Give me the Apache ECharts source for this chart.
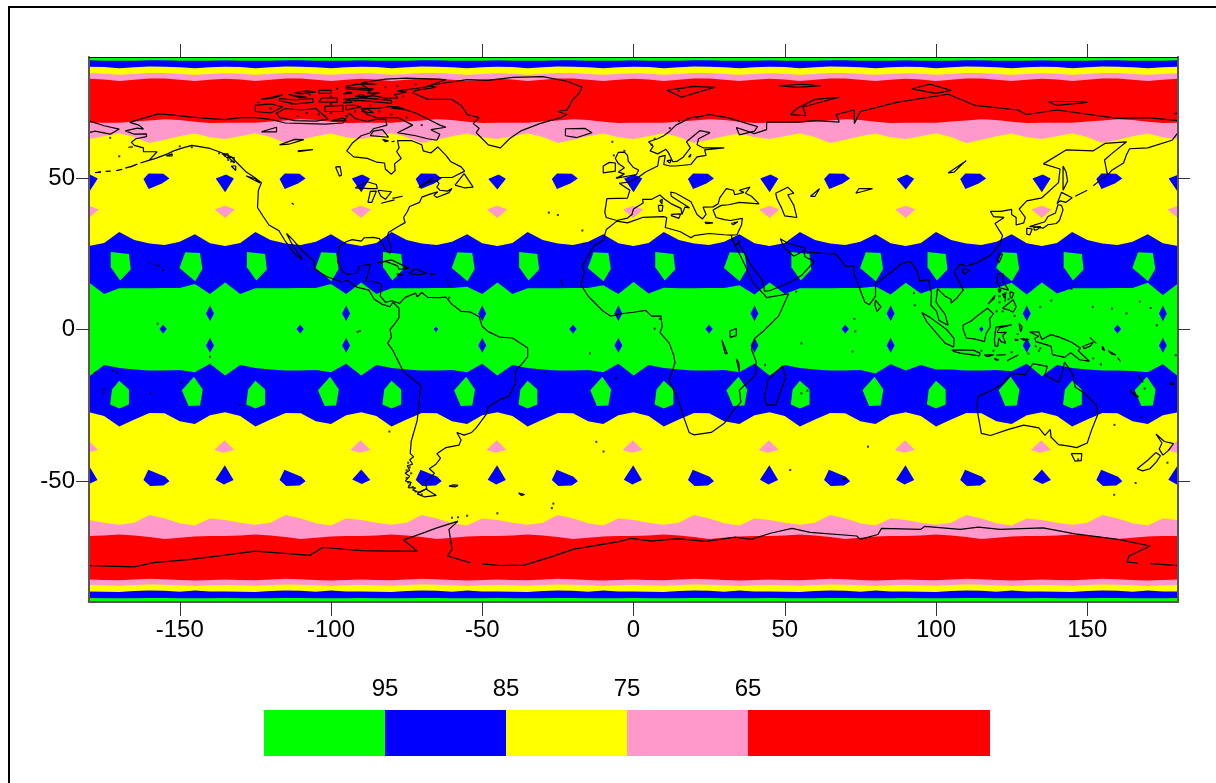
<!DOCTYPE html>
<html>
<head>
<meta charset="utf-8">
<style>
  html, body { margin: 0; padding: 0; background: #fff; overflow: hidden; }
  #chart { width: 1216px; height: 783px; }
</style>
<script src="https://cdn.jsdelivr.net/npm/echarts@6/dist/echarts.min.js"></script>
</head>
<body>
<div id="chart"></div>
<script>
const COLORS = { green: '#00ff00', blue: '#0000ff', yellow: '#ffff00', pink: '#ff99cc', red: '#ff0000' };
const FONT = '"Liberation Sans", Arial, sans-serif';

const xTicks = [-150, -100, -50, 0, 50, 100, 150];
const yTicks = [-50, 0, 50];
const legendLevels = [95, 85, 75, 65];
const legendWidths = [1, 1, 1, 1, 2];
const legendColors = [COLORS.green, COLORS.blue, COLORS.yellow, COLORS.pink, COLORS.red];

// longitudes the band edges were read at
const edgeLons = [
  -180,-175,-170,-165,-160,-155,-150,-145,-140,
  -135,-130,-125,-120,-115,-110,-105,-100,-95,
  -90,-85,-80,-75,-70,-65,-60,-55,-50,
  -45,-40,-35,-30,-25,-20,-15,-10,-5,
  0,5,10,15,20,25,30,35,40,
  45,50,55,60,65,70,75,80,85,
  90,95,100,105,110,115,120,125,130,
  135,140,145,150,155,160,165,170,175,
  180
];

// band edges, latitude per longitude, north to south
const greenBlueCapN = [
  88.9,88.8,88.8,88.8,88.9,88.9,88.8,88.8,88.8, 88.9,88.8,88.8,88.8,88.9,88.9,88.8,88.8,88.8,
  88.9,88.8,88.8,88.8,88.9,88.9,88.8,88.8,88.8, 88.9,88.8,88.8,88.8,88.9,88.9,88.8,88.8,88.8,
  88.9,88.8,88.8,88.8,88.9,88.9,88.8,88.8,88.8, 88.9,88.8,88.8,88.8,88.9,88.9,88.8,88.8,88.8,
  88.9,88.8,88.8,88.8,88.9,88.9,88.8,88.8,88.8, 88.9,88.8,88.8,88.8,88.9,88.9,88.8,88.8,88.8, 88.9
];
const blueYellowCapN = [
  86.8,86.7,86.3,86.6,86.9,86.8,86.6,86.3,86.6, 86.8,86.7,86.3,86.6,86.9,86.8,86.6,86.3,86.6,
  86.8,86.7,86.3,86.6,86.9,86.8,86.6,86.3,86.6, 86.8,86.7,86.3,86.6,86.9,86.8,86.6,86.3,86.6,
  86.8,86.7,86.3,86.6,86.9,86.8,86.6,86.3,86.6, 86.8,86.7,86.3,86.6,86.9,86.8,86.6,86.3,86.6,
  86.8,86.7,86.3,86.6,86.9,86.8,86.6,86.3,86.6, 86.8,86.7,86.3,86.6,86.9,86.8,86.6,86.3,86.6, 86.8
];
const yellowPinkCapN = [
  84.6,84.5,84.1,84.4,84.7,84.7,84.4,84.1,84.4, 84.6,84.5,84.1,84.4,84.7,84.7,84.4,84.1,84.4,
  84.6,84.5,84.1,84.4,84.7,84.7,84.4,84.1,84.4, 84.6,84.5,84.1,84.4,84.7,84.7,84.4,84.1,84.4,
  84.6,84.5,84.1,84.4,84.7,84.7,84.4,84.1,84.4, 84.6,84.5,84.1,84.4,84.7,84.7,84.4,84.1,84.4,
  84.6,84.5,84.1,84.4,84.7,84.7,84.4,84.1,84.4, 84.6,84.5,84.1,84.4,84.7,84.7,84.4,84.1,84.4, 84.6
];
const pinkRedCapN = [
  82.8,82.6,82.1,82.5,82.9,82.9,82.5,82.1,82.5, 82.8,82.6,82.1,82.5,82.9,82.9,82.5,82.1,82.5,
  82.8,82.6,82.1,82.5,82.9,82.9,82.5,82.1,82.5, 82.8,82.6,82.1,82.5,82.9,82.9,82.5,82.1,82.5,
  82.8,82.6,82.1,82.5,82.9,82.9,82.5,82.1,82.5, 82.8,82.6,82.1,82.5,82.9,82.9,82.5,82.1,82.5,
  82.8,82.6,82.1,82.5,82.9,82.9,82.5,82.1,82.5, 82.8,82.6,82.1,82.5,82.9,82.9,82.5,82.1,82.5, 82.8
];
const redPinkN = [
  68.3,68.3,68.3,68.7,69.0,69.4,69.2,68.6,68.2, 68.3,68.3,68.3,68.7,69.0,69.4,69.2,68.6,68.2,
  68.3,68.3,68.3,68.7,69.0,69.4,69.2,68.6,68.2, 68.3,68.3,68.3,68.7,69.0,69.4,69.2,68.6,68.2,
  68.3,68.3,68.3,68.7,69.0,69.4,69.2,68.6,68.2, 68.3,68.3,68.3,68.7,69.0,69.4,69.2,68.6,68.2,
  68.3,68.3,68.3,68.7,69.0,69.4,69.2,68.6,68.2, 68.3,68.3,68.3,68.7,69.0,69.4,69.2,68.6,68.2, 68.3
];
const pinkYellowN = [
  62.9,63.8,64.8,63.6,61.6,62.7,63.8,64.7,63.5, 62.9,63.8,64.8,63.6,61.6,62.7,63.8,64.7,63.5,
  62.9,63.8,64.8,63.6,61.6,62.7,63.8,64.7,63.5, 62.9,63.8,64.8,63.6,61.6,62.7,63.8,64.7,63.5,
  62.9,63.8,64.8,63.6,61.6,62.7,63.8,64.7,63.5, 62.9,63.8,64.8,63.6,61.6,62.7,63.8,64.7,63.5,
  62.9,63.8,64.8,63.6,61.6,62.7,63.8,64.7,63.5, 62.9,63.8,64.8,63.6,61.6,62.7,63.8,64.7,63.5, 62.9
];
const yellowBlueN = [
  27.6,28.6,32.2,29.6,28.4,27.9,29.0,31.5,28.5, 27.6,28.6,32.2,29.6,28.4,27.9,29.0,31.5,28.5,
  27.6,28.6,32.2,29.6,28.4,27.9,29.0,31.5,28.5, 27.6,28.6,32.2,29.6,28.4,27.9,29.0,31.5,28.5,
  27.6,28.6,32.2,29.6,28.4,27.9,29.0,31.5,28.5, 27.6,28.6,32.2,29.6,28.4,27.9,29.0,31.5,28.5,
  27.6,28.6,32.2,29.6,28.4,27.9,29.0,31.5,28.5, 27.6,28.6,32.2,29.6,28.4,27.9,29.0,31.5,28.5, 27.6
];
const blueGreenN = [
  15.5,11.7,13.6,13.6,13.6,13.7,13.7,15.0,11.7, 15.5,11.7,13.6,13.6,13.6,13.7,13.7,15.0,11.7,
  15.5,11.7,13.6,13.6,13.6,13.7,13.7,14.1,11.7, 15.5,11.7,13.6,13.6,13.6,13.7,13.7,14.6,11.7,
  15.7,11.9,13.8,13.6,13.6,13.7,13.7,14.6,11.6, 15.5,11.7,13.6,13.6,13.6,13.7,13.7,14.2,11.6,
  15.4,11.9,13.6,13.6,13.6,13.7,13.7,15.4,11.6, 15.5,11.9,13.6,13.6,13.6,13.7,13.7,15.4,11.4, 15.2
];
const greenBlueS = [
  -15.5,-11.7,-12.7,-13.2,-13.5,-13.5,-13.4,-14.1,-11.3, -15.2,-11.7,-12.7,-13.2,-13.5,-13.5,-13.4,-14.1,-11.3,
  -15.2,-11.7,-12.7,-13.2,-13.5,-13.5,-13.4,-14.1,-11.3, -15.2,-11.7,-12.7,-13.2,-13.5,-13.5,-13.4,-14.1,-11.3,
  -15.2,-11.7,-12.7,-13.2,-13.5,-13.5,-13.4,-14.1,-11.3, -15.2,-11.7,-12.7,-13.2,-13.5,-13.5,-13.4,-14.5,-11.5,
  -13.5,-11.7,-13.2,-13.2,-13.5,-13.5,-13.4,-13.8,-11.3, -15.4,-11.7,-12.7,-13.2,-13.5,-13.5,-13.7,-14.1,-11.5, -15.4
];
const blueYellowS = [
  -27.3,-28.6,-32.0,-29.7,-27.6,-27.7,-30.3,-31.2,-28.3, -27.3,-28.6,-32.0,-29.7,-27.6,-27.7,-30.3,-31.2,-28.3,
  -27.3,-28.6,-32.0,-29.7,-27.6,-27.7,-30.3,-31.2,-28.3, -27.3,-28.6,-32.0,-29.7,-27.6,-27.7,-30.3,-31.2,-28.3,
  -27.3,-28.6,-32.0,-29.7,-27.6,-27.7,-30.3,-31.2,-28.3, -27.3,-28.6,-32.0,-29.7,-27.6,-27.7,-30.3,-31.2,-28.3,
  -27.3,-28.6,-32.0,-29.7,-27.6,-27.7,-30.3,-31.2,-28.3, -27.3,-28.6,-32.0,-29.7,-27.6,-27.7,-30.3,-31.2,-28.3, -27.3
];
const yellowPinkS = [
  -62.9,-63.8,-64.5,-63.8,-61.3,-62.4,-64.0,-64.7,-62.4, -62.9,-63.8,-64.5,-63.8,-61.3,-62.4,-64.0,-64.7,-62.4,
  -62.9,-63.8,-64.5,-63.8,-61.3,-62.4,-64.0,-64.7,-62.4, -62.9,-63.8,-64.5,-63.8,-61.3,-62.4,-64.0,-64.7,-62.4,
  -62.9,-63.8,-64.5,-63.8,-61.3,-62.4,-64.0,-64.7,-62.4, -62.9,-63.8,-64.5,-63.8,-61.3,-62.4,-64.0,-64.7,-62.4,
  -62.9,-63.8,-64.5,-63.8,-61.3,-62.4,-64.0,-64.7,-62.4, -62.9,-63.8,-64.5,-63.8,-61.3,-62.4,-64.0,-64.7,-62.4, -62.9
];
const pinkRedS = [
  -68.2,-68.0,-67.7,-68.0,-68.5,-69.2,-68.8,-68.4,-68.2, -68.2,-68.0,-67.7,-68.0,-68.5,-69.2,-68.8,-68.4,-68.2,
  -68.2,-68.0,-67.7,-68.0,-68.5,-69.2,-68.8,-68.4,-68.2, -68.2,-68.0,-67.7,-68.0,-68.5,-69.2,-68.8,-68.4,-68.2,
  -68.2,-68.0,-67.7,-68.0,-68.5,-69.2,-68.8,-68.4,-68.2, -68.2,-68.0,-67.7,-68.0,-68.5,-69.2,-68.8,-68.4,-68.2,
  -68.2,-68.0,-67.7,-68.0,-68.5,-69.2,-68.8,-68.4,-68.2, -68.2,-68.0,-67.7,-68.0,-68.5,-69.2,-68.8,-68.4,-68.2, -68.2
];
const redPinkCapS = [
  -82.6,-82.7,-82.8,-82.6,-82.3,-82.5,-82.7,-82.9,-82.7, -82.6,-82.7,-82.8,-82.6,-82.3,-82.5,-82.7,-82.9,-82.7,
  -82.6,-82.7,-82.8,-82.6,-82.3,-82.5,-82.7,-82.9,-82.7, -82.6,-82.7,-82.8,-82.6,-82.3,-82.5,-82.7,-82.9,-82.7,
  -82.6,-82.7,-82.8,-82.6,-82.3,-82.5,-82.7,-82.9,-82.7, -82.6,-82.7,-82.8,-82.6,-82.3,-82.5,-82.7,-82.9,-82.7,
  -82.6,-82.7,-82.8,-82.6,-82.3,-82.5,-82.7,-82.9,-82.7, -82.6,-82.7,-82.8,-82.6,-82.3,-82.5,-82.7,-82.9,-82.7, -82.6
];
const pinkYellowCapS = [
  -84.4,-84.5,-84.6,-84.4,-84.2,-84.3,-84.5,-84.7,-84.5, -84.4,-84.5,-84.6,-84.4,-84.2,-84.3,-84.5,-84.7,-84.5,
  -84.4,-84.5,-84.6,-84.4,-84.2,-84.3,-84.5,-84.7,-84.5, -84.4,-84.5,-84.6,-84.4,-84.2,-84.3,-84.5,-84.7,-84.5,
  -84.4,-84.5,-84.6,-84.4,-84.2,-84.3,-84.5,-84.7,-84.5, -84.4,-84.5,-84.6,-84.4,-84.2,-84.3,-84.5,-84.7,-84.5,
  -84.4,-84.5,-84.6,-84.4,-84.2,-84.3,-84.5,-84.7,-84.5, -84.4,-84.5,-84.6,-84.4,-84.2,-84.3,-84.5,-84.7,-84.5, -84.4
];
const yellowBlueCapS = [
  -86.5,-86.6,-86.7,-86.4,-86.2,-86.3,-86.6,-86.2,-86.5, -86.5,-86.6,-86.7,-86.4,-86.2,-86.3,-86.6,-86.2,-86.5,
  -86.5,-86.6,-86.7,-86.4,-86.2,-86.3,-86.6,-86.2,-86.5, -86.5,-86.6,-86.7,-86.4,-86.2,-86.3,-86.6,-86.2,-86.5,
  -86.5,-86.6,-86.7,-86.4,-86.2,-86.3,-86.6,-86.2,-86.5, -86.5,-86.6,-86.7,-86.4,-86.2,-86.3,-86.6,-86.2,-86.5,
  -86.5,-86.6,-86.7,-86.4,-86.2,-86.3,-86.6,-86.2,-86.5, -86.5,-86.6,-86.7,-86.4,-86.2,-86.3,-86.6,-86.2,-86.5, -86.5
];
const blueGreenCapS = [
  -88.7,-88.8,-88.8,-88.8,-88.7,-88.7,-88.8,-88.8,-88.8, -88.7,-88.8,-88.8,-88.8,-88.7,-88.7,-88.8,-88.8,-88.8,
  -88.7,-88.8,-88.8,-88.8,-88.7,-88.7,-88.8,-88.8,-88.8, -88.7,-88.8,-88.8,-88.8,-88.7,-88.7,-88.8,-88.8,-88.8,
  -88.7,-88.8,-88.8,-88.8,-88.7,-88.7,-88.8,-88.8,-88.8, -88.7,-88.8,-88.8,-88.8,-88.7,-88.7,-88.8,-88.8,-88.8,
  -88.7,-88.8,-88.8,-88.8,-88.7,-88.7,-88.8,-88.8,-88.8, -88.7,-88.8,-88.8,-88.8,-88.7,-88.7,-88.8,-88.8,-88.8, -88.7
];

// closed patches: outline relative to a centre longitude, with the centres they sit at
const blueWideN = [[-4.5,49.7],[-2.8,51.5],[2.1,51.4],[4.1,49.9],[1.6,48.2],[-2.8,46.4]];
const blueWideNLons = [-157.5,-112.5,-67.5,-22.5,22.5,67.5,112.5,157.5];
const blueTallN = [[-3.1,49.9],[0.3,51.2],[2.9,49.9],[0,45.3]];
const blueTallNLons = [-180,-135,-90,0,45,135,180];
const blueShortN = [[-3,49.7],[0.4,51.2],[2.8,49.8],[0,46.2]];
const blueShortNLons = [-45,90];
const pinkN = [[-3.5,39.6],[0,40.9],[3.2,39.6],[0,36.8]];
const pinkNLons = [-180,-135,-90,-45,0,45,90,135,180];

const greenPointedN = [[-2.2,25.5],[2.7,25.3],[3.5,20],[1.1,15.9],[-4.1,20.3]];
const greenPointedNLons = [-146,-101,-56,-11,34,79,124,169];
const greenFlatN = [[-2.8,25.6],[3.2,24.9],[3.8,19.8],[0.3,16.2],[-2.8,20.6]];
const greenFlatNLons = [-170,-125,-80,-35,10,55,100,145];
const greenPointedS = [[0.7,-15.6],[3.6,-19.8],[2.7,-25.1],[-1.1,-25.3],[-3.3,-20.1]];
const greenPointedSLons = [-146,-101,-56,-11,34,79,124,169];
const greenFlatS = [[0,-16.9],[3.2,-19.8],[3.2,-24.8],[0,-26.1],[-3,-24.8],[-2.4,-19.8]];
const greenFlatSLons = [-170,-125,-80,-35,10,55,100,145];

const pinkS = [[-3.6,-39.8],[-0.2,-36.6],[3,-39.8],[-0.6,-40.7]];
const pinkSLons = [-180,-135,-90,-45,0,45,90,135,180];
const blueWideS = [[-4.5,-49.7],[-2.9,-46.3],[2.7,-48.6],[4.1,-50.1],[2.1,-51.5],[-2.3,-51.7]];
const blueWideSLons = [-157.5,-112.5,-67.5,-22.5,22.5,67.5,112.5,157.5];
const blueTallS = [[-3.2,-49.6],[-0.1,-44.8],[2.8,-49.7],[-0.4,-51.2]];
const blueTallSLons = [-180,-135,-45,0,45,90,180];
const blueShortS = [[-3,-49.5],[0,-46.2],[3,-49.7],[0.2,-51]];
const blueShortSLons = [-90,135];

const diamondUpper = [[-1.3,5.3],[0,7.9],[1.3,5.3],[0,2.7]];
const diamondLower = [[-1.3,-5.3],[0,-2.7],[1.3,-5.3],[0,-7.7]];
const diamondLons = [-140,-95,-50,-5,40,85,130,175];
const diamondMid = [[-1.2,0.2],[0,1.6],[1.2,0.2],[0,-1.3]];
const diamondMidLons = [-155.5,-110.2,-20,25,70,160];
const diamondTiny = [[-0.7,0.2],[0,1],[0.7,0.2],[0,-0.9]];
const diamondTinyLons = [-65.3,115];

// coastlines [lon, lat]
const coastAmericas = [[-163,55],[-160,56],[-157.5,58.7],[-162,58.7],[-162,60],[-165,60.8],[-166,61.8],[-164.5,63],[-161,63.7],[-161,64.6],[-165,64.5],[-168,65.6],[-164,66.5],[-162,66.2],[-163.5,67.5],[-166.5,68.4],[-163,69.5],[-157,71.2],[-152,70.8],[-147,70.2],[-141,69.7],[-135,69.3],[-130,70],[-125,70],[-120,69.4],[-115,68.2],[-108,68],[-102,67.8],[-96,68.2],[-94,71.5],[-92,69.7],[-88,68.7],[-85,69.5],[-82,69.5],[-81.5,67.5],[-86,66.3],[-87,65],[-90,64],[-93,61.5],[-94.8,59],[-92.5,57],[-88,56.5],[-85,55.3],[-82.3,55],[-82,52.9],[-80,51.3],[-78.8,52.5],[-79,54.7],[-76.8,56.5],[-78.3,58.8],[-77.5,60],[-78,62.4],[-73.5,62.4],[-70,61],[-69.5,59],[-67,58.3],[-64.7,60.3],[-62,57.5],[-60.5,55.5],[-57,53.7],[-55.8,52.3],[-60,50.2],[-66,50.2],[-69,48.3],[-71,46.9],[-68,48.6],[-65,49.2],[-64.3,48.2],[-65,47],[-64,46],[-61.5,45.7],[-60,46.6],[-61,45.2],[-65,43.6],[-66,44.3],[-64.7,45.5],[-67,44.8],[-70,43.7],[-70.7,42],[-74,40.6],[-74.8,38.9],[-76,37],[-75.5,35.3],[-77.8,34],[-81,32],[-81.4,30.5],[-80,26.8],[-80.5,25.2],[-81.7,26],[-82.8,28],[-84,30],[-86,30.4],[-89,30.3],[-90,29.2],[-93,29.7],[-95,29],[-97.3,27.5],[-97.5,25],[-97.8,22.5],[-96,19],[-94.5,18.2],[-91.5,18.6],[-90.5,21],[-87,21.5],[-87.7,18.5],[-88.5,16],[-86,15.9],[-83.3,15],[-83.7,11],[-82,9],[-79.8,9.5],[-77.3,8.6],[-75.5,10.6],[-72,12],[-71.5,10.8],[-70,12.2],[-68,10.6],[-64,10.5],[-62,10.7],[-60,8.3],[-57,6],[-54,5.8],[-51,4.2],[-50,1],[-48,-0.7],[-44.3,-2.5],[-40,-2.8],[-37,-4.8],[-35,-6],[-35,-9],[-37,-11.5],[-39,-13.5],[-39,-17.7],[-41,-22],[-44,-23],[-48,-25.5],[-48.7,-28],[-52,-32.5],[-53.5,-34],[-56,-34.9],[-58.4,-34],[-57,-36.5],[-57.7,-38.2],[-62,-39],[-65,-41],[-63.8,-42.5],[-65.3,-44.5],[-67.5,-46],[-65.8,-47.5],[-69,-50.5],[-68.3,-52.5],[-71,-53.8],[-73,-53],[-72,-52.3],[-74.5,-52.2],[-73.5,-50.5],[-75.4,-50],[-74,-48.5],[-75.5,-47.5],[-74,-46.5],[-74.8,-45],[-73,-44.5],[-74,-43],[-72.7,-42],[-73.8,-41],[-73.5,-37],[-71.5,-30],[-70.3,-18.5],[-76,-14],[-79.5,-7],[-81.3,-4.5],[-80,-2.5],[-80.5,0],[-78.8,2],[-77.5,4],[-77.5,7],[-79.5,9],[-80.5,7.5],[-83,8.3],[-85.7,10],[-87.5,13],[-91.5,14],[-94.5,16.2],[-96.5,15.7],[-101.5,17.5],[-105.5,20],[-105.5,22.5],[-109.5,26],[-112.5,29.5],[-114.7,31.7],[-112.5,27.5],[-110,24],[-109.5,23],[-112,25],[-115,29],[-117.2,32.6],[-120.5,34.5],[-122.5,37.5],[-124.3,40.3],[-124,46],[-123,48.5],[-125,50],[-128,52],[-130.5,54.5],[-133,57],[-137,58.7],[-140,59.8],[-146,60.8],[-149,60],[-152,59],[-154,58],[-158,56.5],[-163,55]];
const coastGreenland = [[-73,78.2],[-68,76],[-60,76],[-57,74],[-55,71],[-51,70],[-53,68],[-51,66.5],[-52,65],[-50,63],[-48,61],[-44,60],[-41,63],[-37,65.7],[-31,68],[-24,70],[-22,71],[-25,72],[-22,72.5],[-20,76],[-18,78],[-17,80],[-22,82],[-30,83.5],[-40,83.3],[-48,82.3],[-55,82.5],[-62,81.5],[-68,80.5],[-65,80],[-72,79],[-73,78.2]];
const coastBaffin = [[-80,73.7],[-76,72.8],[-72,71.5],[-68,69.5],[-64,67.5],[-62,66.8],[-67,66],[-64,64.5],[-65,62.5],[-68,63],[-72,64],[-78,65],[-73,67.5],[-78,70],[-85,70],[-88,71],[-90,73],[-85,73],[-80,73.7]];
const coastVictoria = [[-117,70],[-112,69],[-105,68.8],[-101,69.5],[-105,73],[-110,72.5],[-115,73],[-118,71.5],[-117,70]];
const coastBanks = [[-125,72],[-120,71.5],[-116,73.5],[-120,74.5],[-125,74],[-125,72]];
const coastEllesmere = [[-90,76.5],[-86,77.2],[-82,76.4],[-78,76.5],[-79,77.6],[-75,78.5],[-78,78.8],[-72,79.6],[-68,80.2],[-65,81.5],[-62,82.5],[-68,82.8],[-75,83],[-82,82.7],[-90,81.5],[-85,81],[-92,81],[-95,80],[-86,79.5],[-88,78],[-84,78.2],[-90,76.5]];
const coastDevon = [[-96,76],[-88,75.4],[-80,74.7],[-80,75.7],[-90,76.5],[-96,76]];
const coastAxelHeiberg = [[-95,79.5],[-87,79],[-90,81],[-95,80.5],[-95,79.5]];
const coastMelville = [[-117,75.5],[-112,74.5],[-106,75],[-106,76.3],[-112,75.8],[-117,76.3],[-117,75.5]];
const coastPrinceOfWales = [[-102,72],[-96,72],[-96,74],[-102,73.7],[-102,72]];
const coastSomerset = [[-95,72.5],[-90,73.5],[-92,74],[-95,74],[-95,72.5]];
const coastBathurst = [[-104,75.2],[-98,75],[-98,76.5],[-103,76.5],[-104,75.2]];
const coastPatrick = [[-123,76],[-116,77.5],[-119,76.5],[-123,76]];
const coastRingnes = [[-104,78],[-100,78],[-100,79],[-104,79],[-104,78]];
const coastAmund = [[-96,77.8],[-93,78],[-94,78.5],[-96,77.8]];
const coastKing = [[-110,77.8],[-105,78.5],[-108,78.8],[-112,78.2],[-110,77.8]];
const coastMackenzie = [[-114,77.6],[-110,76.5],[-108,76.7],[-113,77.4],[-114,77.6]];
const coastGraham = [[-92,77],[-88,76.8],[-90,77.6],[-92,77]];
const coastCornwallis = [[-96,74.8],[-93,75],[-94,75.8],[-96,74.8]];
const coastBylot = [[-80,73],[-76,72.8],[-78,73.6],[-80,73]];
const coastBrodeur = [[-90,72],[-86,71.5],[-88,73],[-90,72]];
const coastKingWilliam = [[-100,68.9],[-95,69],[-96,69.8],[-100,68.9]];
const coastSouthampton = [[-87,64],[-81,63.5],[-83,66],[-86,65.5],[-87,64]];
const coastCoats = [[-83,62.8],[-81,62.3],[-82,62],[-83,62.8]];
const coastMansel = [[-80,62],[-79,62.2],[-79.5,61.6],[-80,62]];
const coastNewfoundland = [[-59,47.7],[-56,51.5],[-53,47],[-56,46.8],[-59,47.7]];
const coastVancouver = [[-128,50.7],[-123.5,48.4],[-125,49.8],[-128,50.7]];
const coastCharlotte = [[-133,54],[-131.5,54],[-131.5,52.5],[-133,54]];
const coastPanhandleA = [[-136,58],[-134,58],[-134,56.5],[-136,58]];
const coastPanhandleB = [[-134,57],[-132,56.8],[-132,55],[-134,57]];
const coastKodiak = [[-154.5,57.3],[-152.5,58],[-152.5,57.3],[-154.5,57.3]];
const coastNunivak = [[-167,60.2],[-165.5,60.3],[-166,59.8],[-167,60.2]];
const coastAleutianA = [[-166.5,53.6],[-164,54.6],[-166,53.9],[-168,53.3]];
const coastAleutianB = [[-171,52.5],[-169,52.9]];
const coastAleutianC = [[-178,51.8],[-176,52]];
const coastAleutianD = [[-174.5,52.2],[-172.8,52.3]];
const coastCuba = [[-84.8,22],[-80,23],[-74.2,20.2],[-77.5,19.9],[-78,21],[-82,22.5],[-84.8,22]];
const coastHispaniola = [[-74.4,18.5],[-72,20],[-68.4,18.6],[-71,18],[-74.4,18.5]];
const coastJamaica = [[-78.3,18.4],[-76.3,18.1],[-77.5,17.8],[-78.3,18.4]];
const coastPuertoRico = [[-67.2,18.4],[-65.7,18.3],[-67,18],[-67.2,18.4]];
const coastSuperior = [[-92,46.8],[-88,48.8],[-85,47.9],[-84.7,46.5],[-87,46.5],[-92,46.8]];
const coastMichigan = [[-87.8,42],[-86.5,42],[-85,45.7],[-87,45.6],[-87.8,42]];
const coastHuron = [[-84.5,46],[-80,45.5],[-82,43],[-83.5,44],[-84.5,46]];
const coastErie = [[-83.4,41.7],[-79,42.8],[-79.5,42.5],[-83.4,41.7]];
const coastOntario = [[-79.7,43.3],[-76.3,44],[-76.5,43.4],[-79.7,43.3]];
const coastWinnipeg = [[-98.5,53.7],[-97,53.8],[-96.5,51],[-97.2,50.6],[-98.5,53.7]];
const coastSlave = [[-117,61],[-112,62.8],[-109,62.7],[-114,61.2],[-117,61]];
const coastBear = [[-123,65.3],[-118,66.8],[-118,65.3],[-123,65.3]];
const coastAthabasca = [[-111,59],[-106,59.4],[-106,59],[-111,58.7]];
const coastSaltLake = [[-113,41.8],[-112.3,41.3],[-112.6,40.8],[-113,41.8]];
const coastEurasiaNorth = [[-5.5,36],[-9,37],[-9.5,38.7],[-8.8,43.2],[-2,43.4],[-1.2,46],[-4.7,48.3],[-1.5,48.7],[1.5,50.2],[4,52],[8,54],[8.5,57],[10.5,57.5],[10,54.5],[12,54],[14,54],[19,54.5],[21,57],[24,57.5],[23.5,59.3],[30,60],[23,60],[21,61],[21.5,63],[25.3,65],[22,65.7],[17.5,62],[18.8,60],[16.5,57],[14.3,55.5],[13,55.4],[11.5,58.5],[10.7,59.5],[8,58],[5.5,59],[6.5,60.5],[5,62],[8,63],[10,64],[12,65.5],[14,67.5],[16,68.5],[19,70],[22,70.3],[25,71],[28,70.5],[31,70],[41,67],[40,65.5],[35,64.3],[34,66.7],[40,64.7],[44,66],[44,68.5],[54,68.5],[60,69],[68,68.5],[67,71],[73,72.5],[73,68],[75,72],[81,73.5],[87,75],[104,77.7],[113,74],[127,72.5],[130,71],[140,72.5],[160,69.7],[170,70],[180,69]];
const coastChukotkaWest = [[-180,68.9],[-175,67.3],[-170,66.2],[-173,64.5],[-178,65.5],[-180,65]];
const coastAsiaPacific = [[180,65],[178,62.5],[170,60],[164,59.7],[163,57.8],[162,55],[158,52.5],[156.7,51],[155.7,56],[158,58],[163,62],[156,61.5],[152,59],[143,59.3],[135.5,54.7],[141,53],[140.5,48.5],[135,43.5],[130,42.5],[127.5,39.8],[129.5,37],[129,35.2],[126.5,34.5],[126.5,37],[125,38],[125,39.7],[121.5,39],[118,39],[119,37.3],[122.5,37],[119.5,35],[122,31],[121,28],[118,24.5],[113.5,22],[110,21],[108,21.6],[106,19],[109,13],[107,10.5],[105,8.7],[105,10],[103,11],[100.5,13.5],[100,9],[103,5],[104,1.4],[101,3],[100.2,6],[98.3,8],[98.5,12],[97.5,16.5],[94.5,16],[94,19],[91.5,22.5],[88.5,21.7],[86.5,20],[82,16.5],[80,15],[80,11],[78,8.2],[76.5,9],[73,18],[72.8,21],[70,20.8],[69,22.5],[66.7,25],[61.5,25.2],[57,25.7],[56.5,27],[51,28.5],[48.5,30],[48,29.5],[50,26.7],[51.5,25.5],[53,24.2],[56.3,26],[56.7,24],[59.8,22.5],[55.5,17.8],[52,15.7],[45,12.8],[43.3,12.7],[42.8,16],[39,21],[35,28],[34.9,29.5],[34.2,28],[33.5,28],[32.6,30]];
const coastMediterranean = [[32.3,31.2],[34.2,31.3],[35.7,34.5],[36,36.7],[32,36],[30,36.3],[27.3,37],[26.3,39.5],[29,41],[31.5,41.2],[35,42],[41.5,41.5],[39,44],[37,45],[38.5,47],[35,46],[36.5,45.3],[33.5,44.5],[33,46],[30.7,46.5],[28.5,43.5],[28,41.5],[26.3,40.5],[23,40.4],[24,38],[22.8,36.5],[21,38],[19.3,41.5],[19,42.2],[14,45],[12.3,45.4],[12.5,44],[16,41.8],[18.5,40.2],[17,40.4],[16,38],[15.7,40],[12.5,41.5],[10.3,43],[8.7,44.4],[6,43],[3,43],[3.2,41.8],[0,39.8],[-0.5,38],[-2,36.8],[-5.5,36]];
const coastAfrica = [[32.3,31.2],[30,31.3],[25,31.7],[20,31],[19,30.3],[15.5,32.3],[10.5,33.7],[11,37],[10,37.3],[3,37],[-2,35.2],[-5.5,35.8],[-9,33],[-10,29.5],[-13,27.7],[-17,21],[-16.3,19],[-17.3,14.7],[-15,11],[-13,9],[-10,6],[-7.5,4.4],[-4,5.2],[0,5.7],[4,6.3],[6,4.4],[9,4.5],[9.5,1],[8.8,-1],[11.8,-4.5],[13.3,-8.5],[13.7,-11],[11.8,-17],[14.5,-22.5],[16.5,-28.7],[18.4,-34],[20,-34.8],[25.7,-34],[30,-31],[32.8,-27],[35.5,-24],[35,-20],[40.5,-15],[40.5,-10.5],[39,-6.5],[40,-3],[43,-0.5],[48,4.5],[51.3,11.8],[44,10.5],[43.2,11.5],[39.5,15.5],[37.2,20.5],[35.5,24],[33.5,28],[32.6,30],[32.3,31.2]];
const coastMadagascar = [[49.3,-12],[50.3,-16],[47,-25],[44,-25],[43.3,-22],[44.5,-16.5],[49.3,-12]];
const coastVictoriaLake = [[31.8,-0.5],[34,0.3],[34,-2],[32,-2.6],[31.8,-0.5]];
const coastTanganyika = [[29.2,-3.5],[29.6,-3.5],[31,-8],[30.3,-8],[29.2,-3.5]];
const coastMalawi = [[34,-9.7],[34.8,-11],[35,-14],[34.5,-13.5],[34,-9.7]];
const coastCaspian = [[47,45],[51,47],[53,45],[51,44.5],[53,41],[54,37],[50,37.5],[49,40],[47.5,43],[47,45]];
const coastAral = [[58.5,44],[61.5,46.5],[60,44],[58.5,44]];
const coastBalkhash = [[73.5,45],[79,46.5],[74.5,46.5],[73.5,45]];
const coastBaikal = [[104,51.7],[110,55.7],[109,55],[106,52],[104,51.7]];
const coastBritain = [[-5,58.5],[-3,58.6],[-2,57.5],[-1.7,55.5],[0,53.5],[1.7,52.7],[1,51.2],[-5.5,50],[-3,51.4],[-5,52],[-3,53.4],[-5,54.8],[-6,56.5],[-5,58.5]];
const coastIreland = [[-8,55.2],[-6,55],[-6,52.3],[-10,51.7],[-10,54],[-8,55.2]];
const coastIceland = [[-22.5,66.3],[-16,66.4],[-13.7,65],[-18.7,63.4],[-22.5,64],[-22.5,66.3]];
const coastSardinia = [[8.2,41],[9.7,41],[9.5,39.2],[8.5,39],[8.2,41]];
const coastCorsica = [[8.7,42.5],[9.5,43],[9.4,41.5],[8.8,41.6],[8.7,42.5]];
const coastSicily = [[12.5,38],[15.6,38.2],[15,36.7],[12.5,37.6],[12.5,38]];
const coastCrete = [[23.6,35.5],[26.3,35.2],[24,35],[23.6,35.5]];
const coastCyprus = [[32.3,35],[34.5,35.6],[33,34.6],[32.3,35]];
const coastZealand = [[11,55.7],[12.5,56],[12,55],[11,55.7]];
const coastGotland = [[18.2,57],[19,57.9],[18.7,57],[18.2,57]];
const coastSvalbard = [[11,79],[20,80.3],[27,80],[20,78],[16,76.7],[11,79]];
const coastNovaya = [[52,71],[57,70.6],[56,73.5],[68,76.7],[60,76],[54,73],[52,71]];
const coastFranzJosef = [[48,80.5],[56,81],[62,80.5],[54,80],[48,80.5]];
const coastSevernaya = [[92,79.5],[98,81],[105,79],[100,78],[92,79.5]];
const coastNewSiberian = [[137,75.3],[148,75.3],[150,75],[140,74],[137,75.3]];
const coastWrangel = [[178.5,71.2],[180,71.5],[180,70.9],[178.5,71.2]];
const coastKuriles = [[146,44],[148,45],[150,46]];
const coastKurilesNorth = [[152,47.5],[154.5,49.5],[156,50.5]];
const coastSakhalin = [[142,54],[143,52],[143.5,49],[142,46],[142,50],[142,54]];
const coastHonshu = [[130.9,34],[136,35.6],[137,37.3],[139.5,38.5],[140.3,41.2],[141.5,41],[142,39.5],[140.8,36],[139.8,35],[137,34.6],[135.5,33.5],[132,34],[130.9,34]];
const coastKyushu = [[130,33.5],[131.8,33.2],[131,31.2],[130,31.5],[130,33.5]];
const coastShikoku = [[132.3,33.7],[134.6,34],[133.5,33],[132.5,32.8],[132.3,33.7]];
const coastHokkaido = [[140,41.5],[141.5,45.3],[145,43.5],[143,42],[141,42.5],[140,41.5]];
const coastTaiwan = [[121,25.2],[122,24.8],[120.8,22],[120.2,23.2],[121,25.2]];
const coastHainan = [[109,20],[111,19.7],[109.6,18.2],[108.7,19],[109,20]];
const coastSriLanka = [[80,9.7],[81.8,7.5],[80.5,6],[79.8,8],[80,9.7]];
const coastLuzon = [[120.5,18.5],[122.2,18.4],[122,16],[124,13],[121,13.8],[120,16],[120.5,18.5]];
const coastMindoro = [[120.5,13.4],[121.5,13],[121,12.2],[120.5,13.4]];
const coastPanay = [[122,11.8],[123,11.5],[122.5,10.6],[122,11.8]];
const coastNegros = [[123,10.9],[123.5,10.3],[122.8,9.2],[123,10.9]];
const coastLeyte = [[124.5,12.5],[125.7,12],[125,10.2],[124.5,11],[124.5,12.5]];
const coastPalawan = [[117.2,8.4],[119.5,11.3],[119.2,10.2],[117.2,8.4]];
const coastMindanao = [[122,7],[125.5,9.8],[126.5,7.5],[125.5,5.7],[124,6.5],[122,7]];
const coastBorneo = [[109,1.5],[111.5,2.7],[113.5,4.4],[117,7],[119,5.2],[117.7,3.5],[118,1],[116.5,-1.5],[116,-4],[113,-3.2],[110,-2.8],[109,0],[109,1.5]];
const coastSumatra = [[95.3,5.6],[98,4],[103.5,0],[106,-3],[105.8,-5.8],[103,-4.5],[100,-1],[97,2.5],[95.3,5.6]];
const coastJava = [[105.2,-6.8],[108.5,-6.7],[112.5,-6.9],[114.5,-7.8],[114.4,-8.7],[108,-7.8],[106,-7.3],[105.2,-6.8]];
const coastSulawesi = [[119.8,0.8],[125,1.5],[121,0.5],[120.2,-0.9],[121.5,-1],[123.3,-0.9],[122,-2],[123,-4.5],[121.5,-4],[120.8,-2.8],[120.4,-5.6],[119.5,-5.4],[119.3,-3.4],[119.8,0.8]];
const coastLombok = [[116,-8.4],[117,-8.4],[119,-8.4],[117,-9],[116,-8.4]];
const coastFlores = [[119.8,-8.5],[123,-8.3],[122.8,-8.8],[119.8,-8.5]];
const coastTimor = [[123.5,-10.3],[127.2,-8.4],[125,-9.5],[123.5,-10.3]];
const coastSumba = [[119.2,-9.6],[120.8,-10],[120,-10.2],[119.2,-9.6]];
const coastCeram = [[128,-3],[130.8,-3.3],[129,-3.5],[128,-3]];
const coastBuru = [[126,-3.2],[127.2,-3.4],[126.5,-3.7],[126,-3.2]];
const coastHalmahera = [[127.5,2],[128.5,0.8],[128,-0.8],[127.7,0.5],[127.5,2]];
const coastNewGuinea = [[131,-0.8],[134,-0.8],[135,-3.3],[138,-1.7],[141,-2.6],[145,-4.3],[147.8,-6.2],[147,-7],[150.7,-10.5],[147.5,-10],[144.5,-7.7],[142.5,-9.2],[138.5,-8.3],[138,-5.5],[133,-4],[132.7,-2.8],[134,-2.3],[131,-0.8]];
const coastNewBritain = [[148.5,-5.6],[152,-4.2],[151,-5.5],[149,-6.3],[148.5,-5.6]];
const coastNewIreland = [[150.8,-2.6],[153,-4.6],[152.5,-4],[150.8,-2.6]];
const coastSolomonA = [[155,-5.5],[155.8,-7],[155,-6.5],[155,-5.5]];
const coastSolomonB = [[157,-7],[159.5,-8.5],[158,-8],[157,-7]];
const coastSolomonC = [[160,-9.3],[161,-10.5],[161.5,-10],[160,-9.3]];
const coastAustralia = [[114,-22],[113.5,-26],[115,-34.3],[118,-35],[124,-33],[129,-31.6],[134,-32.5],[136,-35],[137.8,-33],[138,-35.5],[140.5,-38],[144,-38.5],[146.5,-39],[150,-37.5],[151.5,-33],[153.5,-28],[153,-25],[149,-21],[146,-19],[145.3,-15],[142.5,-10.8],[141.5,-15],[140.5,-17.5],[136,-15],[136.8,-12.2],[132,-11.3],[129.5,-15],[125,-14.5],[122,-18],[118,-20.3],[114,-22]];
const coastTasmania = [[144.7,-41],[148.2,-41],[148,-43.3],[146,-43.5],[144.7,-41]];
const coastNZNorth = [[172.7,-34.5],[175.5,-37],[178.5,-37.7],[176.8,-40],[175,-41.5],[173.8,-39.5],[174.7,-37.5],[172.7,-34.5]];
const coastNZSouth = [[172.7,-40.6],[174.2,-41.7],[172.8,-43.8],[170.7,-46],[168.3,-46.7],[166.5,-46],[170,-43.2],[172.7,-40.6]];
const coastNewCaledonia = [[164,-20],[167,-22.3],[166,-22],[164,-20]];
const coastVanuatu = [[166.7,-15],[167.3,-16],[168.5,-17.5]];
const coastFiji = [[177.3,-17.5],[178.6,-18],[177.5,-18.2],[177.3,-17.5]];
const coastFuego = [[-68.6,-52.7],[-65.2,-54.8],[-69,-55.3],[-71.5,-54.3],[-68.6,-52.7]];
const coastFalklands = [[-61,-51.7],[-59.5,-51.3],[-58,-51.5],[-59,-52],[-61,-51.7]];
const coastSouthGeorgia = [[-38,-54],[-36,-54.5],[-37,-54.8],[-38,-54]];
const coastKerguelen = [[69,-49],[70.5,-49.3],[69.5,-49.7],[69,-49]];
const coastAntarcticWest = [[-180,-78],[-165,-78.4],[-158.6,-77],[-147,-76],[-135,-74.5],[-125,-73.2],[-107,-74.6],[-102.8,-72],[-90,-73],[-80,-73.2],[-71.5,-73.2],[-76,-69.5],[-69,-67],[-65,-65.5],[-58,-63.3],[-61,-66],[-60,-72.6],[-61.5,-74.8],[-54,-77]];
const coastAntarcticEast = [[-50,-77.4],[-44,-78],[-36,-77.8],[-27,-75],[-20,-72.6],[-4.4,-70],[-0.8,-69],[6,-69.9],[14.3,-69.1],[24,-70],[33.6,-68.6],[38.9,-69.3],[45.3,-67.3],[52.4,-65.7],[58.4,-67],[73.8,-68.2],[74.9,-69.3],[80.8,-67.7],[82,-65.7],[95,-66],[96.3,-65],[108,-66],[114,-65.3],[121.2,-66],[135.4,-65.5],[146,-67.5],[160.2,-69.3],[170.8,-71.5],[163.8,-74.8],[163.2,-76.8],[166.8,-77.2]];
const coastRossShelf = [[171,-77.3],[180,-78]];

const coastLines = [
  coastAmericas, coastGreenland, coastBaffin, coastVictoria, coastBanks, coastEllesmere, coastDevon, coastAxelHeiberg,
  coastMelville, coastPrinceOfWales, coastSomerset, coastBathurst, coastPatrick, coastRingnes, coastAmund, coastKing, coastMackenzie,
  coastGraham, coastCornwallis, coastBylot, coastBrodeur, coastKingWilliam, coastSouthampton, coastCoats, coastMansel,
  coastNewfoundland, coastVancouver, coastCharlotte, coastPanhandleA, coastPanhandleB, coastKodiak, coastNunivak,
  coastAleutianA, coastAleutianB, coastAleutianC, coastAleutianD, coastCuba, coastHispaniola, coastJamaica, coastPuertoRico,
  coastSuperior, coastMichigan, coastHuron, coastErie, coastOntario, coastWinnipeg, coastSlave, coastBear, coastAthabasca, coastSaltLake,
  coastEurasiaNorth, coastChukotkaWest, coastAsiaPacific, coastMediterranean, coastAfrica, coastMadagascar,
  coastVictoriaLake, coastTanganyika, coastMalawi, coastCaspian, coastAral, coastBalkhash, coastBaikal,
  coastBritain, coastIreland, coastIceland, coastSardinia, coastCorsica, coastSicily, coastCrete, coastCyprus, coastZealand, coastGotland,
  coastSvalbard, coastNovaya, coastFranzJosef, coastSevernaya, coastNewSiberian, coastWrangel, coastKuriles, coastKurilesNorth, coastSakhalin,
  coastHonshu, coastKyushu, coastShikoku, coastHokkaido, coastTaiwan, coastHainan, coastSriLanka,
  coastLuzon, coastMindoro, coastPanay, coastNegros, coastLeyte, coastPalawan, coastMindanao,
  coastBorneo, coastSumatra, coastJava, coastSulawesi, coastLombok, coastFlores, coastTimor, coastSumba, coastCeram, coastBuru, coastHalmahera,
  coastNewGuinea, coastNewBritain, coastNewIreland, coastSolomonA, coastSolomonB, coastSolomonC,
  coastAustralia, coastTasmania, coastNZNorth, coastNZSouth, coastNewCaledonia, coastVanuatu, coastFiji,
  coastFuego, coastFalklands, coastSouthGeorgia, coastKerguelen, coastAntarcticWest, coastAntarcticEast, coastRossShelf
];

// tiny islands
const islandDots = [
  [-155.5,19.6],[-157,21],[-158,21.4],[-160,22],[-172,-13.6],[-170.7,-14.3],[-149.5,-17.6],[-140,-9],[-159.7,-21.2],[-175.2,-21.1],
  [-157.3,1.9],[-90.5,-0.5],[-91.2,-0.8],[-80.7,-33.7],[-109.4,-27.1],[-130,-25],[-25,37.8],[-28,38.6],[-16.5,28.3],[-14,28.5],[-16.9,32.7],
  [-24,16],[-23.5,15],[-14.4,-7.9],[-5.7,-16],[-12.3,-37.1],[-9.9,-40.3],[-26.5,-57.5],[-29.3,-14],[-61.5,16.2],[-61,14.6],[-60.9,10.5],
  [7,0.3],[8.7,3.5],[55.5,-4.6],[57.5,-20.2],[55.5,-21.1],[73,3.5],[73.3,-0.6],[92.7,12],[93,8],[72.4,-7.3],[53.8,12.5],[43.5,-11.7],
  [145.7,15.2],[144.8,13.4],[134.5,7.4],[138.1,9.5],[151.8,7.4],[158.2,6.9],[163,5.3],[171,7.1],[173,1.4],[167.4,9.2],[179.2,-8.5],
  [-178,-14.3],[-175,-19.8],[178.4,-17.9],[169,-19.5],[159,-31.5],[167.9,-29],[158.9,-54.6],[166,-50.7],[176.5,-44],[77.5,-38.7],[51.8,-46.4],
  [-5.5,50.1],[-7,62],[-6.5,57.5],[-3,59],[15,78.8],[152,-9.5],[154.5,-11.5],[-176.5,52],[-170,57.2],[-173,63.3],[147,-42.9],[130.5,-8],[134.5,-6.2],
  [-60,-62.2],[-58,-62],[-55,-61.5],[-45,-60.7],[-27,-59],
  // crowded shores
  [-124,75],[-120,73],[-113,74.5],[-111,70.5],[-108,71.5],[-104,71],[-100,71.5],[-100,74.5],[-92,75.5],[-87,74],[-84,72],[-80,71],
  [-75,70],[-70,67.5],[-95,70.5],[-92,72],[-107,77.5],[-100,77],[-98,79.5],[-82,80],[-78,80.5],[-72,81],[-85,76],[-76,77],
  [-74.5,-44],[-74,-45.5],[-75,-46.5],[-75,-49],[-74.5,-50.5],[-74,-51.5],[-73,-52],[-72,-53.5],[-70,-54.5],[-73.5,-47.5],
  [-134,56],[-133,55.5],[-135,57.5],[-137,58.2],[-146,60.2],[-150,60.5],[6,61],[7,63],[12,66.5],[15,68.8],[18,69.5],[21,70],
  [121,11],[123,12],[124,10],[121,9],[120,6],[122,6],[126,4.5],[127,-1.5],[133,-5.5],[134,-7],[119,-7],[115,-7],[125,-7.5]
];

// band stack: each band is painted from its upper edge down to the south pole
const northPoleEdge = edgeLons.map(() => 90);
const bandEdges = [
  northPoleEdge, greenBlueCapN, blueYellowCapN, yellowPinkCapN, pinkRedCapN, redPinkN, pinkYellowN, yellowBlueN, blueGreenN,
  greenBlueS, blueYellowS, yellowPinkS, pinkRedS, redPinkCapS, pinkYellowCapS, yellowBlueCapS, blueGreenCapS
];
const bandFills = [
  COLORS.green, COLORS.blue, COLORS.yellow, COLORS.pink, COLORS.red, COLORS.pink, COLORS.yellow, COLORS.blue, COLORS.green,
  COLORS.blue, COLORS.yellow, COLORS.pink, COLORS.red, COLORS.pink, COLORS.yellow, COLORS.blue, COLORS.green
];

const shapes = [];
bandEdges.forEach((edge, i) => {
  const pts = edge.map((lat, k) => [edgeLons[k], lat]);
  pts.push([180, -90], [-180, -90]);
  shapes.push({ pts, fill: bandFills[i] });
});

const addPatches = (outline, lons, fill) => {
  lons.forEach(lon => shapes.push({ pts: outline.map(p => [lon + p[0], p[1]]), fill }));
};
addPatches(blueWideN, blueWideNLons, COLORS.blue);
addPatches(blueTallN, blueTallNLons, COLORS.blue);
addPatches(blueShortN, blueShortNLons, COLORS.blue);
addPatches(pinkN, pinkNLons, COLORS.pink);
addPatches(greenPointedN, greenPointedNLons, COLORS.green);
addPatches(greenFlatN, greenFlatNLons, COLORS.green);
addPatches(greenPointedS, greenPointedSLons, COLORS.green);
addPatches(greenFlatS, greenFlatSLons, COLORS.green);
addPatches(pinkS, pinkSLons, COLORS.pink);
addPatches(blueWideS, blueWideSLons, COLORS.blue);
addPatches(blueTallS, blueTallSLons, COLORS.blue);
addPatches(blueShortS, blueShortSLons, COLORS.blue);
addPatches(diamondUpper, diamondLons, COLORS.blue);
addPatches(diamondLower, diamondLons, COLORS.blue);
addPatches(diamondMid, diamondMidLons, COLORS.blue);
addPatches(diamondTiny, diamondTinyLons, COLORS.blue);

const tickLabel = { color: '#000', fontFamily: FONT, fontSize: 24 };
const mainTick = (length, values) => ({ show: true, length, lineStyle: { color: '#333', width: 1 }, customValues: values });

const chart = echarts.init(document.getElementById('chart'), null, { renderer: 'canvas' });
chart.setOption({
  animation: false,
  backgroundColor: '#fff',
  grid: [
    { left: 89, top: 57, width: 1089, height: 545 },
    { left: 264, top: 710, width: 726, height: 46 }
  ],
  xAxis: [
    {
      type: 'value', gridIndex: 0, position: 'bottom', min: -180, max: 180, z: 10,
      splitLine: { show: false },
      axisLine: { onZero: false, lineStyle: { color: '#5f5450', width: 2 } },
      axisTick: mainTick(14, xTicks),
      axisLabel: Object.assign({ margin: 16, customValues: xTicks, hideOverlap: false }, tickLabel)
    },
    {
      type: 'value', gridIndex: 0, position: 'top', min: -180, max: 180, z: 10,
      splitLine: { show: false },
      axisLine: { onZero: false, lineStyle: { color: '#111', width: 1 } },
      axisTick: mainTick(13, xTicks),
      axisLabel: { show: false }
    },
    {
      type: 'value', gridIndex: 1, position: 'top', min: 0, max: 6,
      axisLine: { show: false }, axisTick: { show: false }, splitLine: { show: false },
      axisLabel: Object.assign({ margin: 9, customValues: [1, 2, 3, 4], formatter: v => String(legendLevels[v - 1]) }, tickLabel)
    }
  ],
  yAxis: [
    {
      type: 'value', gridIndex: 0, position: 'left', min: -90, max: 90, z: 10,
      splitLine: { show: false },
      axisLine: { onZero: false, lineStyle: { color: '#5f5450', width: 2 } },
      axisTick: mainTick(13, yTicks),
      axisLabel: Object.assign({ margin: 14, customValues: yTicks, padding: [3, 0, 0, 0] }, tickLabel)
    },
    {
      type: 'value', gridIndex: 0, position: 'right', min: -90, max: 90, z: 10,
      splitLine: { show: false },
      axisLine: { onZero: false, lineStyle: { color: '#555', width: 2 } },
      axisTick: mainTick(12, yTicks),
      axisLabel: { show: false }
    },
    {
      type: 'category', gridIndex: 1, data: ['levels'],
      axisLine: { show: false }, axisTick: { show: false }, axisLabel: { show: false }, splitLine: { show: false }
    }
  ],
  series: [
    {
      type: 'custom',
      xAxisIndex: 0,
      yAxisIndex: 0,
      clip: true,
      silent: true,
      z: 1,
      data: shapes.map((s, i) => [i, 0]),
      renderItem: (params, api) => {
        const s = shapes[api.value(0)];
        return {
          type: 'polygon',
          shape: { points: s.pts.map(p => api.coord(p)) },
          style: { fill: s.fill, stroke: null }
        };
      }
    },
    ...coastLines.map(line => ({
      type: 'line',
      xAxisIndex: 0,
      yAxisIndex: 0,
      data: line,
      symbol: 'none',
      silent: true,
      clip: true,
      z: 3,
      lineStyle: { color: '#000', width: 1.2 }
    })),
    {
      type: 'scatter',
      xAxisIndex: 0,
      yAxisIndex: 0,
      data: islandDots,
      symbol: 'rect',
      symbolSize: 2,
      silent: true,
      z: 3,
      itemStyle: { color: '#000' }
    },
    ...legendWidths.map((w, i) => ({
      type: 'bar',
      xAxisIndex: 2,
      yAxisIndex: 2,
      stack: 'legend',
      barWidth: '100%',
      data: [w],
      silent: true,
      itemStyle: { color: legendColors[i] }
    }))
  ],
  graphic: [
    { type: 'line', shape: { x1: 8, y1: 7, x2: 1216, y2: 7 }, style: { stroke: '#000', lineWidth: 2 }, silent: true },
    { type: 'line', shape: { x1: 9, y1: 6, x2: 9, y2: 783 }, style: { stroke: '#000', lineWidth: 2 }, silent: true }
  ]
});
</script>
</body>
</html>
